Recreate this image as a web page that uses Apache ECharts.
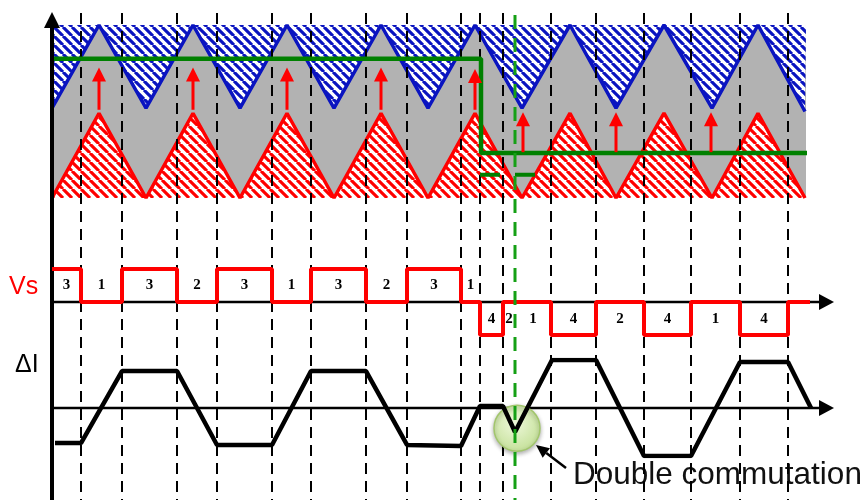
<!DOCTYPE html>
<html><head><meta charset="utf-8">
<script src="https://cdn.jsdelivr.net/npm/echarts@6/dist/echarts.min.js"></script>
<style>html,body{margin:0;padding:0;background:#fff}#c{width:865px;height:500px}</style>
</head><body><div id="c"></div>
<script>
// ---------------- data ----------------
// carrier vertices (time, carrier value in [-1,1])
const carrierTimes = [52,99,146,193,240,287,334,381,428,475,522,570,616,664,712,758,805];
const upperCarrier = [0.04,1,0.04,1,0.04,1,0.04,1,0.04,1,0.04,1,0.04,1,0.04,1,0.0];
const lowerCarrier = [-1,-0.02,-1,-0.02,-1,-0.02,-1,-0.02,-1,-0.02,-1,-0.02,-1,-0.02,-1,-0.02,-1];
// reference (modulating) signal
const refTimes = [52,481,481,807];
const refValues = [0.61,0.61,-0.48,-0.48];
const refDashTimes = [480,537];
const refDashValues = [-0.73,-0.73];
// red shift arrows
const arrowTimes = [99,193,287,381,475,523,616,711];
const arrowFrom = [0.02,0.02,0.02,0.02,0.02,-0.47,-0.47,-0.47];
const arrowTo = [0.51,0.51,0.51,0.51,0.49,-0.01,-0.01,-0.01];
// switching instants
const switchTimes = [81,122,177,217,272,311,366,407,461,480,503,551,596,644,691,740,788];
const doubleCommTime = 515;
// Vs
const vsEdges = [52,81,122,177,217,272,311,366,407,461,480,503,515,551,596,644,691,740,788,810];
const vsLevels = [1,0,1,0,1,0,1,0,1,0,-1,0,0,-1,0,-1,0,-1,0];
const vsLabels = ['3','1','3','2','3','1','3','2','3','1','4','2','1','4','2','4','1','4'];
const vsLabelSide = [1,1,1,1,1,1,1,1,1,1,-1,-1,-1,-1,-1,-1,-1,-1];
// Delta I
const diTimes = [55,81,122,177,217,272,311,366,407,461,480,503,515,552,596,644,691,740,788,811];
const diValues = [-0.73,-0.73,0.77,0.77,-0.77,-0.77,0.77,0.77,-0.77,-0.79,0.04,0.04,-0.5,1,1,-1,-1,0.96,0.96,0];
const circlePoint = [517,-0.42];

// ---------------- helpers ----------------
function hatch(color){
  const s=9, c=document.createElement('canvas'); c.width=s; c.height=s;
  const g=c.getContext('2d'); g.fillStyle='#fff'; g.fillRect(0,0,s,s);
  g.strokeStyle=color; g.lineWidth=3.1; g.beginPath();
  for(let k=-1;k<=1;k++){ g.moveTo(k*s,0); g.lineTo(k*s+s,s); }
  g.stroke(); return c;
}
const blueHatch = {type:'pattern', image: hatch('#0a14c0'), repeat:'repeat'};
const redHatch = {type:'pattern', image: hatch('#ff0000'), repeat:'repeat'};
const BLUE='#0a14c0', RED='#ff0000', GREEN='#008000';
const T0=carrierTimes[0], T1=carrierTimes[carrierTimes.length-1];

function ax(i){ return {gridIndex:i, type:'value', min:0, max:865, show:false}; }
function ay(i, min, max, inv){ return {gridIndex:i, type:'value', min, max, inverse:!!inv, show:false}; }

const chart = echarts.init(document.getElementById('c'), null, {renderer:'canvas'});
const option = {
  animation:false,
  backgroundColor:'#fff',
  grid:[
    {left:0,right:0,top:0,bottom:0},
    {left:0,right:0,top:25,height:173},
    {left:0,right:0,top:269,height:66},
    {left:0,right:0,top:360,height:96}
  ],
  xAxis:[ax(0),ax(1),ax(2),ax(3)],
  yAxis:[ay(0,0,500,true),ay(1,-1,1),ay(2,-1,1),ay(3,-1,1)],
  graphic:[
    {type:'text', z:100, style:{text:'Vs', x:9, y:287, font:'25px "Liberation Sans"', fill:RED, verticalAlign:'middle', textVerticalAlign:'middle'}},
    {type:'text', z:100, style:{text:'ΔI', x:15, y:365, font:'25px "Liberation Sans"', fill:'#000', verticalAlign:'middle', textVerticalAlign:'middle'}}
  ],
  series:[
    // gray band + hatched regions
    {type:'custom', xAxisIndex:1, yAxisIndex:1, clip:false, z:1, data:[[0]],
     renderItem:function(p,api){
       const up = carrierTimes.map((t,i)=>api.coord([t,upperCarrier[i]]));
       const lo = carrierTimes.map((t,i)=>api.coord([t,lowerCarrier[i]]));
       const tl=api.coord([T0,1]), tr=api.coord([T1+1,1]), bl=api.coord([T0,-1]), br=api.coord([T1+1,-1]);
       return {type:'group', children:[
         {type:'polygon', shape:{points:[tl,tr,br,bl]}, style:{fill:'#b2b2b2'}},
         {type:'polygon', shape:{points:up.concat([tr,tl])}, style:{fill:blueHatch}},
         {type:'polygon', shape:{points:lo.concat([br,bl])}, style:{fill:redHatch}}
       ]};
     }},
    {type:'line', xAxisIndex:1, yAxisIndex:1, z:2, symbol:'none', data:carrierTimes.map((t,i)=>[t,upperCarrier[i]]), lineStyle:{color:BLUE,width:3.5}},
    {type:'line', xAxisIndex:1, yAxisIndex:1, z:2, symbol:'none', data:carrierTimes.map((t,i)=>[t,lowerCarrier[i]]), lineStyle:{color:RED,width:3.5}},
    // annotation text (under dashed lines)
    {type:'custom', xAxisIndex:0, yAxisIndex:0, clip:false, z:2, data:[[573,475]],
     renderItem:function(p,api){ const c=api.coord([api.value(0),api.value(1)]);
       return {type:'text', style:{text:'Double commutation', x:c[0], y:c[1], font:'31.5px "Liberation Sans"', fill:'#111', textAlign:'left', align:'left', verticalAlign:'middle', textVerticalAlign:'middle'}}; }},
    // dashed verticals
    {type:'custom', xAxisIndex:0, yAxisIndex:0, clip:false, z:3, data:switchTimes.map(t=>[t]),
     renderItem:function(p,api){ const x=api.coord([api.value(0),0])[0];
       return {type:'line', shape:{x1:x,y1:api.coord([0,13])[1],x2:x,y2:api.coord([0,500])[1]}, style:{stroke:'#000',lineWidth:2,lineDash:[11,7]}}; }},
    // reference lines
    {type:'line', xAxisIndex:1, yAxisIndex:1, z:4, symbol:'none', data:refTimes.map((t,i)=>[t,refValues[i]]), lineStyle:{color:GREEN,width:4.5}},
    {type:'line', xAxisIndex:1, yAxisIndex:1, z:4, symbol:'none', data:refDashTimes.map((t,i)=>[t,refDashValues[i]]), lineStyle:{color:GREEN,width:4,type:[20,15]}},
    // red arrows
    {type:'custom', xAxisIndex:1, yAxisIndex:1, clip:false, z:5, data:arrowTimes.map((t,i)=>[t,arrowFrom[i],arrowTo[i]]),
     renderItem:function(p,api){ const a=api.coord([api.value(0),api.value(1)]), b=api.coord([api.value(0),api.value(2)]);
       return {type:'group', children:[
         {type:'line', shape:{x1:a[0],y1:a[1],x2:b[0],y2:b[1]+12}, style:{stroke:RED,lineWidth:3}},
         {type:'polygon', shape:{points:[[b[0],b[1]],[b[0]-7,b[1]+14],[b[0]+7,b[1]+14]]}, style:{fill:RED}}
       ]}; }},
    // left vertical axis
    {type:'custom', xAxisIndex:0, yAxisIndex:0, clip:false, z:6, data:[[52,12,500]],
     renderItem:function(p,api){ const a=api.coord([api.value(0),api.value(1)]), b=api.coord([api.value(0),api.value(2)]);
       return {type:'group', children:[
         {type:'line', shape:{x1:a[0],y1:a[1]+12,x2:b[0],y2:b[1]}, style:{stroke:'#000',lineWidth:4}},
         {type:'polygon', shape:{points:[[a[0],a[1]],[a[0]-8,a[1]+16],[a[0]+8,a[1]+16]]}, style:{fill:'#000'}}
       ]}; }},
    // Vs axis & ΔI axis
    {type:'custom', xAxisIndex:2, yAxisIndex:2, clip:false, z:6, data:[[52,834,0]], renderItem:hAxis},
    {type:'custom', xAxisIndex:3, yAxisIndex:3, clip:false, z:6, data:[[52,834,0]], renderItem:hAxis},
    // Vs
    {type:'line', xAxisIndex:2, yAxisIndex:2, z:7, symbol:'none', step:'end',
     data:vsEdges.map((t,i)=>[t, i<vsLevels.length?vsLevels[i]:vsLevels[vsLevels.length-1]]), lineStyle:{color:RED,width:4}},
    {type:'custom', xAxisIndex:2, yAxisIndex:2, clip:false, z:8, data:vsLabels.map((s,i)=>[(vsEdges[i]+vsEdges[i+1])/2, vsLabelSide[i]*0.52]),
     renderItem:function(p,api){ const c=api.coord([api.value(0),api.value(1)]);
       return {type:'text', style:{text:vsLabels[p.dataIndex], x:c[0], y:c[1], font:'bold 15px "Liberation Serif"', fill:'#000', align:'center', textAlign:'center', verticalAlign:'middle', textVerticalAlign:'middle'}}; }},
    // green circle
    {type:'scatter', xAxisIndex:3, yAxisIndex:3, z:8, symbolSize:46, data:[circlePoint],
     itemStyle:{color:{type:'radial',x:0.45,y:0.4,r:0.65,colorStops:[{offset:0,color:'#eef8da'},{offset:1,color:'#c2df95'}]}, borderColor:'#a2c66c', borderWidth:1.5, shadowBlur:4, shadowColor:'rgba(0,0,0,0.3)', shadowOffsetY:2, opacity:1}},
    // ΔI
    {type:'line', xAxisIndex:3, yAxisIndex:3, z:9, symbol:'none', data:diTimes.map((t,i)=>[t,diValues[i]]), lineStyle:{color:'#000',width:4.5}},
    // green dashed vertical (double commutation)
    {type:'custom', xAxisIndex:0, yAxisIndex:0, clip:false, z:10, data:[[doubleCommTime]],
     renderItem:function(p,api){ const x=api.coord([api.value(0),0])[0];
       return {type:'line', shape:{x1:x,y1:api.coord([0,15])[1],x2:x,y2:api.coord([0,500])[1]}, style:{stroke:'#15a015',lineWidth:3,lineDash:[14,9]}}; }},
    // annotation arrow
    {type:'custom', xAxisIndex:0, yAxisIndex:0, clip:false, z:10, data:[[566,468,536,445]],
     renderItem:function(p,api){ const a=api.coord([api.value(0),api.value(1)]), b=api.coord([api.value(2),api.value(3)]);
       const dx=b[0]-a[0], dy=b[1]-a[1], L=Math.hypot(dx,dy), ux=dx/L, uy=dy/L, h=13, w=6;
       const bx=b[0]-ux*h, by=b[1]-uy*h;
       return {type:'group', children:[
         {type:'line', shape:{x1:a[0],y1:a[1],x2:bx,y2:by}, style:{stroke:'#000',lineWidth:2.5}},
         {type:'polygon', shape:{points:[[b[0],b[1]],[bx-uy*w,by+ux*w],[bx+uy*w,by-ux*w]]}, style:{fill:'#000'}}
       ]}; }}
  ]
};
function hAxis(p,api){
  const a=api.coord([api.value(0),api.value(2)]), b=api.coord([api.value(1),api.value(2)]);
  return {type:'group', children:[
    {type:'line', shape:{x1:a[0],y1:a[1],x2:b[0]-12,y2:b[1]}, style:{stroke:'#000',lineWidth:2.5}},
    {type:'polygon', shape:{points:[[b[0],b[1]],[b[0]-15,b[1]-8],[b[0]-15,b[1]+8]]}, style:{fill:'#000'}}
  ]};
}
chart.setOption(option);
</script></body></html>
